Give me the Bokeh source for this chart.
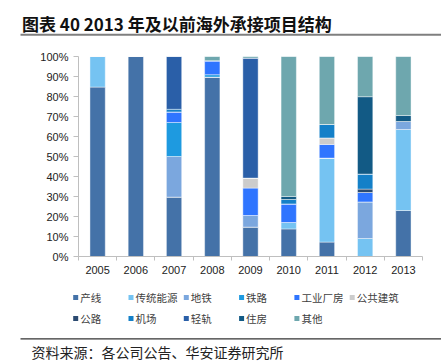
from bokeh.plotting import figure
from bokeh.models import (Range1d, LinearAxis, FixedTicker, PrintfTickFormatter, Label,
                          ColumnDataSource)
from bokeh.core.properties import value
from bokeh.embed import file_html
from bokeh.resources import INLINE

years = ["2005", "2006", "2007", "2008", "2009", "2010", "2011", "2012", "2013"]
series_names = ["产线", "传统能源", "地铁", "铁路", "工业厂房", "公共建筑", "公路", "机场", "轻轨", "住房", "其他"]
colors = ["#4472A8", "#75C3F2", "#7BA7DE", "#1E9AE0", "#2F75FF", "#CCCCCC",
          "#2B4A70", "#1480C8", "#2A5FA8", "#125A85", "#6EA7AE"]

chanxian = [84.7, 100, 29.7, 89.7, 14.7, 13.8, 7.2, 0, 23]
chuantong = [15.3, 0, 0, 0, 0, 3.2, 42, 9, 40.5]
ditie = [0, 0, 20.3, 0, 5.8, 0, 0, 18.3, 4]
tielu = [0, 0, 17, 1.2, 0, 0, 0, 0, 0]
gongye = [0, 0, 5.3, 7, 13.7, 9.3, 6.8, 4.7, 0]
gonggong = [0, 0, 0, 0, 5, 0, 3.3, 0, 0]
gonglu = [0, 0, 0, 0, 0, 0, 0, 1.7, 0]
jichang = [0, 0, 1.3, 0, 0, 2.2, 6.7, 7.5, 0]
qinggui = [0, 0, 26.4, 0, 60, 0, 0, 0, 0]
zhufang = [0, 0, 0, 0, 0, 1.5, 0, 38.7, 3]
qita = [0, 0, 0, 2.1, 0.8, 70, 34, 20.1, 29.5]

y_ticks = [0, 10, 20, 30, 40, 50, 60, 70, 80, 90, 100]

title_text = "图表 40 2013 年及以前海外承接项目结构"
source_text = "资料来源：各公司公告、华安证券研究所"

W, H = 441, 362
CJK = "Noto Sans CJK SC"
LAT = "Liberation Sans"
PIN = {"position": "absolute", "top": "0px", "left": "0px"}

# ---- background page: title, rules, legend, source (pixel coordinates)
bg = figure(width=W, height=H, x_range=Range1d(0, W), y_range=Range1d(H, 0),
            output_backend="svg", toolbar_location=None, x_axis_location=None,
            y_axis_location=None, min_border=0)
bg.outline_line_color = None
bg.xgrid.visible = False
bg.ygrid.visible = False
bg.styles = PIN

bg.add_layout(Label(x=21.5, y=22.5, text=title_text, text_baseline="middle",
                    text_font=CJK, text_font_style="bold", text_font_size="17px",
                    text_color="#111111"))

# horizontal rules under the title and above the source note
RULE_X0 = 20
rules = ColumnDataSource(dict(cx=[(RULE_X0 + W) / 2] * 2, cy=[34.3, 338.3],
                              w=[W - RULE_X0] * 2, h=[2.0, 1.2],
                              color=["#7F7F7F", "#333333"]))
bg.rect(x="cx", y="cy", width="w", height="h", fill_color="color", line_color=None,
        source=rules)

NCOL = 6
LEG_X0, LEG_DX = 72.7, 55.3
LEG_Y = [297.0, 318.0]
SQ = 5
sq_x = [LEG_X0 + (i % NCOL) * LEG_DX + SQ / 2 for i in range(len(series_names))]
sq_y = [LEG_Y[i // NCOL] for i in range(len(series_names))]
lab_x = [LEG_X0 + (i % NCOL) * LEG_DX + SQ + 2 for i in range(len(series_names))]
leg = ColumnDataSource(dict(sx=sq_x, sy=sq_y, lx=lab_x, name=series_names, color=colors))
bg.rect(x="sx", y="sy", width=SQ, height=SQ, fill_color="color", line_color=None, source=leg)
bg.text(x="lx", y="sy", text="name", source=leg, text_baseline="middle",
        text_font=value(CJK), text_font_size="10.5px", text_color="#404040")

bg.add_layout(Label(x=31, y=351, text=source_text, text_baseline="middle",
                    text_font=CJK, text_font_size="14px", text_color="#222222"))

# ---- chart, overlaid on the page with a transparent background
series = [chanxian, chuantong, ditie, tielu, gongye, gonggong, gonglu, jichang, qinggui, zhufang, qita]
keys = ["s%d" % i for i in range(len(series))]
xpos = [i + 0.5 for i in range(len(years))]
data = {"x": xpos, "year": years}
for k, s in zip(keys, series):
    data[k] = s
source = ColumnDataSource(data)

p = figure(width=W, height=H, x_range=Range1d(0, len(years)),
           y_range=Range1d(0, 100), output_backend="svg", toolbar_location=None,
           x_axis_location=None, min_border_left=78, min_border_right=19,
           min_border_top=56, min_border_bottom=106)
p.outline_line_color = None
p.xgrid.visible = False
p.ygrid.visible = False
p.background_fill_alpha = 0
p.border_fill_alpha = 0
p.styles = PIN

p.vbar_stack(keys, x="x", width=0.4, source=source, color=colors,
             line_color="white", line_width=0.6, line_alpha=0.7)

ya = p.yaxis[0]
ya.ticker = FixedTicker(ticks=y_ticks)
ya.formatter = PrintfTickFormatter(format="%d%%")
ya.axis_line_color = "#BFBFBF"
ya.major_tick_line_color = "#BFBFBF"
ya.major_tick_out = 5
ya.major_tick_in = 0
ya.minor_tick_line_color = None
ya.major_label_standoff = 5
ya.major_label_text_font = LAT
ya.major_label_text_font_size = "11px"
ya.major_label_text_color = "#222222"

tick_axis = LinearAxis(ticker=FixedTicker(ticks=list(range(len(years) + 1))),
                       major_label_text_font_size="0px", major_label_text_alpha=0,
                       major_label_standoff=0, axis_line_color="#BFBFBF",
                       major_tick_line_color="#BFBFBF", major_tick_out=4, major_tick_in=0,
                       minor_tick_line_color=None)
p.add_layout(tick_axis, "below")
label_axis = LinearAxis(ticker=FixedTicker(ticks=xpos),
                        major_label_overrides={x: y for x, y in zip(xpos, years)},
                        axis_line_color=None, major_tick_line_color=None, major_tick_out=0,
                        major_tick_in=0, minor_tick_line_color=None, major_label_standoff=5,
                        major_label_text_font=LAT,
                        major_label_text_font_size="11px", major_label_text_color="#222222")
p.add_layout(label_axis, "below")

open("out.html", "w").write(file_html([bg, p], INLINE))
